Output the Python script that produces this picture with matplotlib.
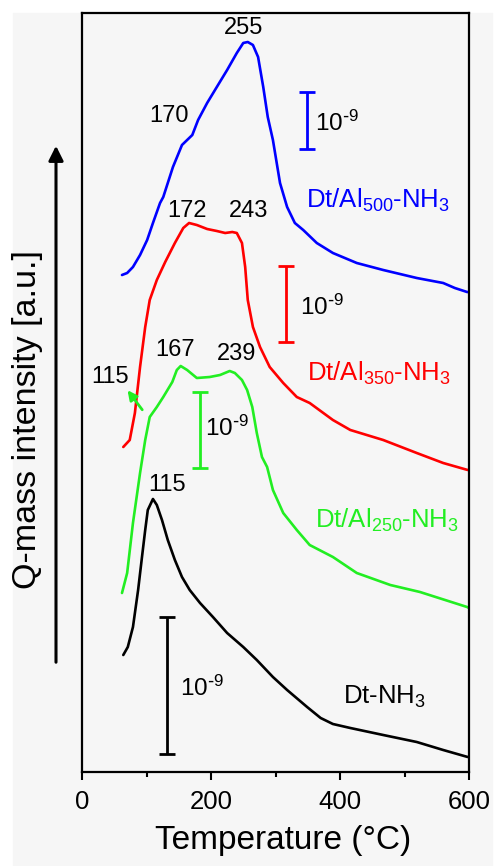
import matplotlib
matplotlib.use('Agg')
import matplotlib.pyplot as plt
from matplotlib.patches import Rectangle

plt.rcParams['font.family'] = ['Liberation Sans', 'DejaVu Sans']
plt.rcParams['mathtext.default'] = 'regular'

# Data (intensity in arbitrary, offset units)
# ----------------------------------------------------------------
temp_al500 = [62, 70, 79, 90, 101, 110, 121, 126, 141, 155, 171, 180, 194, 209, 225, 240,
              250, 257, 265, 273, 281, 288, 296, 307, 318, 330, 343, 364, 389, 426, 467,
              519, 560, 578, 597, 600]
int_al500 = [497, 499, 505, 517, 532, 549, 569, 575, 605, 627, 637, 652, 669, 685, 702, 719,
             729, 730, 727, 715, 685, 655, 632, 589, 565, 549, 542, 529, 519, 509, 502,
             494, 489, 484, 480, 480]

temp_al350 = [64, 74, 82, 90, 98, 105, 116, 129, 144, 157, 166, 178, 194, 209, 222, 233,
              240, 248, 253, 257, 265, 276, 291, 312, 333, 353, 389, 416, 467, 519, 560, 598]
int_al350 = [325, 332, 359, 405, 445, 472, 492, 510, 529, 544, 549, 547, 543, 541, 539, 540,
             539, 529, 505, 472, 445, 425, 405, 389, 375, 369, 352, 342, 332, 319, 309, 302]

temp_al250 = [62, 70, 79, 90, 98, 105, 116, 126, 140, 147, 153, 163, 178, 198, 214, 229,
              237, 248, 256, 264, 271, 279, 287, 296, 312, 333, 353, 389, 426, 478, 524,
              597, 600]
int_al250 = [179, 199, 249, 299, 332, 355, 365, 375, 390, 402, 406, 402, 394, 395, 397, 401,
             399, 392, 382, 365, 339, 315, 305, 282, 259, 242, 227, 215, 199, 187, 180,
             165, 164]

temp_dt = [64, 71, 79, 87, 93, 98, 102, 110, 116, 124, 133, 144, 155, 167, 183, 203, 225,
           250, 271, 296, 318, 349, 370, 389, 416, 467, 519, 560, 598]
int_dt = [117, 125, 145, 182, 215, 242, 262, 273, 267, 252, 232, 212, 195, 182, 169, 155, 139,
          125, 112, 95, 82, 65, 54, 48, 44, 37, 30, 22, 15]

colors = ['#0000ff', '#ff0000', '#22ee22', '#000000']
series_names = [r'Dt/Al$_{500}$-NH$_3$', r'Dt/Al$_{350}$-NH$_3$',
                r'Dt/Al$_{250}$-NH$_3$', r'Dt-NH$_3$']
name_pos = [(347, 572), (349, 399), (361, 252), (405, 75)]

# scale bars: x, bottom, top, label position
bar_x = [349, 316, 183, 132]
bar_lo = [623, 430, 304, 18]
bar_hi = [680, 506, 380, 155]
bar_label_pos = [(361, 649), (338, 465), (191, 344), (152, 84)]

peak_labels = ['255', '170', '172', '243', '167', '239', '115', '115']
peak_pos = [(250, 744), (135, 656), (163, 561), (259, 561), (144, 422), (240, 418),
            (43, 395), (132, 287)]

# Draw figure
# -----------
W, H = 496, 866
fig = plt.figure(figsize=(W / 100, H / 100), dpi=100, facecolor='white')
fig.patches.append(Rectangle((13 / W, 0), (492 - 13) / W, (H - 13) / H,
                             transform=fig.transFigure, color='#f6f6f6', zorder=-10))
ax = fig.add_axes([82 / W, (H - 772) / H, (469 - 82) / W, (772 - 13) / H])
ax.set_facecolor('#f6f6f6')

curves = [(temp_al500, int_al500), (temp_al350, int_al350),
          (temp_al250, int_al250), (temp_dt, int_dt)]
for (t, i), c in zip(curves, colors):
    ax.plot(t, i, color=c, lw=1.9, solid_joinstyle='round', solid_capstyle='round')

for name, (x, y), c in zip(series_names, name_pos, colors):
    ax.text(x, y, name, color=c, fontsize=18.5, ha='left', va='center')

for x, lo, hi, (lx, ly), c in zip(bar_x, bar_lo, bar_hi, bar_label_pos, colors):
    ax.errorbar([x], [(lo + hi) / 2], yerr=[(hi - lo) / 2], color=c, capsize=6,
                capthick=2, elinewidth=2, fmt='none')
    ax.text(lx, ly, r'10$^{\text{-}9}$', fontsize=17.5, ha='left', va='center')

for lab, (x, y) in zip(peak_labels, peak_pos):
    ax.text(x, y, lab, fontsize=17, ha='center', va='center')

ax.annotate('', xy=(68, 384), xytext=(96, 360),
            arrowprops=dict(arrowstyle='-|>', color='#22ee22', lw=2, mutation_scale=14))

ax.set_xlim(0, 600)
ax.set_ylim(0, 759)
ax.set_xticks([0, 200, 400, 600])
ax.set_xticks([100, 300, 500], minor=True)
ax.set_yticks([])
ax.tick_params(axis='x', which='major', direction='out', length=6, width=1.5,
               labelsize=18.5, pad=7)
ax.tick_params(axis='x', which='minor', direction='out', length=3.5, width=1.5)
for s in ax.spines.values():
    s.set_linewidth(1.6)
ax.set_xlabel('Temperature (°C)', fontsize=24)
ax.xaxis.set_label_coords((283 - 82) / 387, -0.070)

fig.text(28 / W, 1 - 420 / H, 'Q-mass intensity [a.u.]', rotation=90,
         fontsize=24.5, ha='center', va='center')
ax.annotate('', xy=(56 / W, 1 - 143 / H), xytext=(56 / W, 1 - 665 / H),
            xycoords='figure fraction', textcoords='figure fraction',
            arrowprops=dict(arrowstyle='-|>', color='black', lw=2.2, mutation_scale=22))

plt.savefig('out.png', dpi=100, facecolor='white')
